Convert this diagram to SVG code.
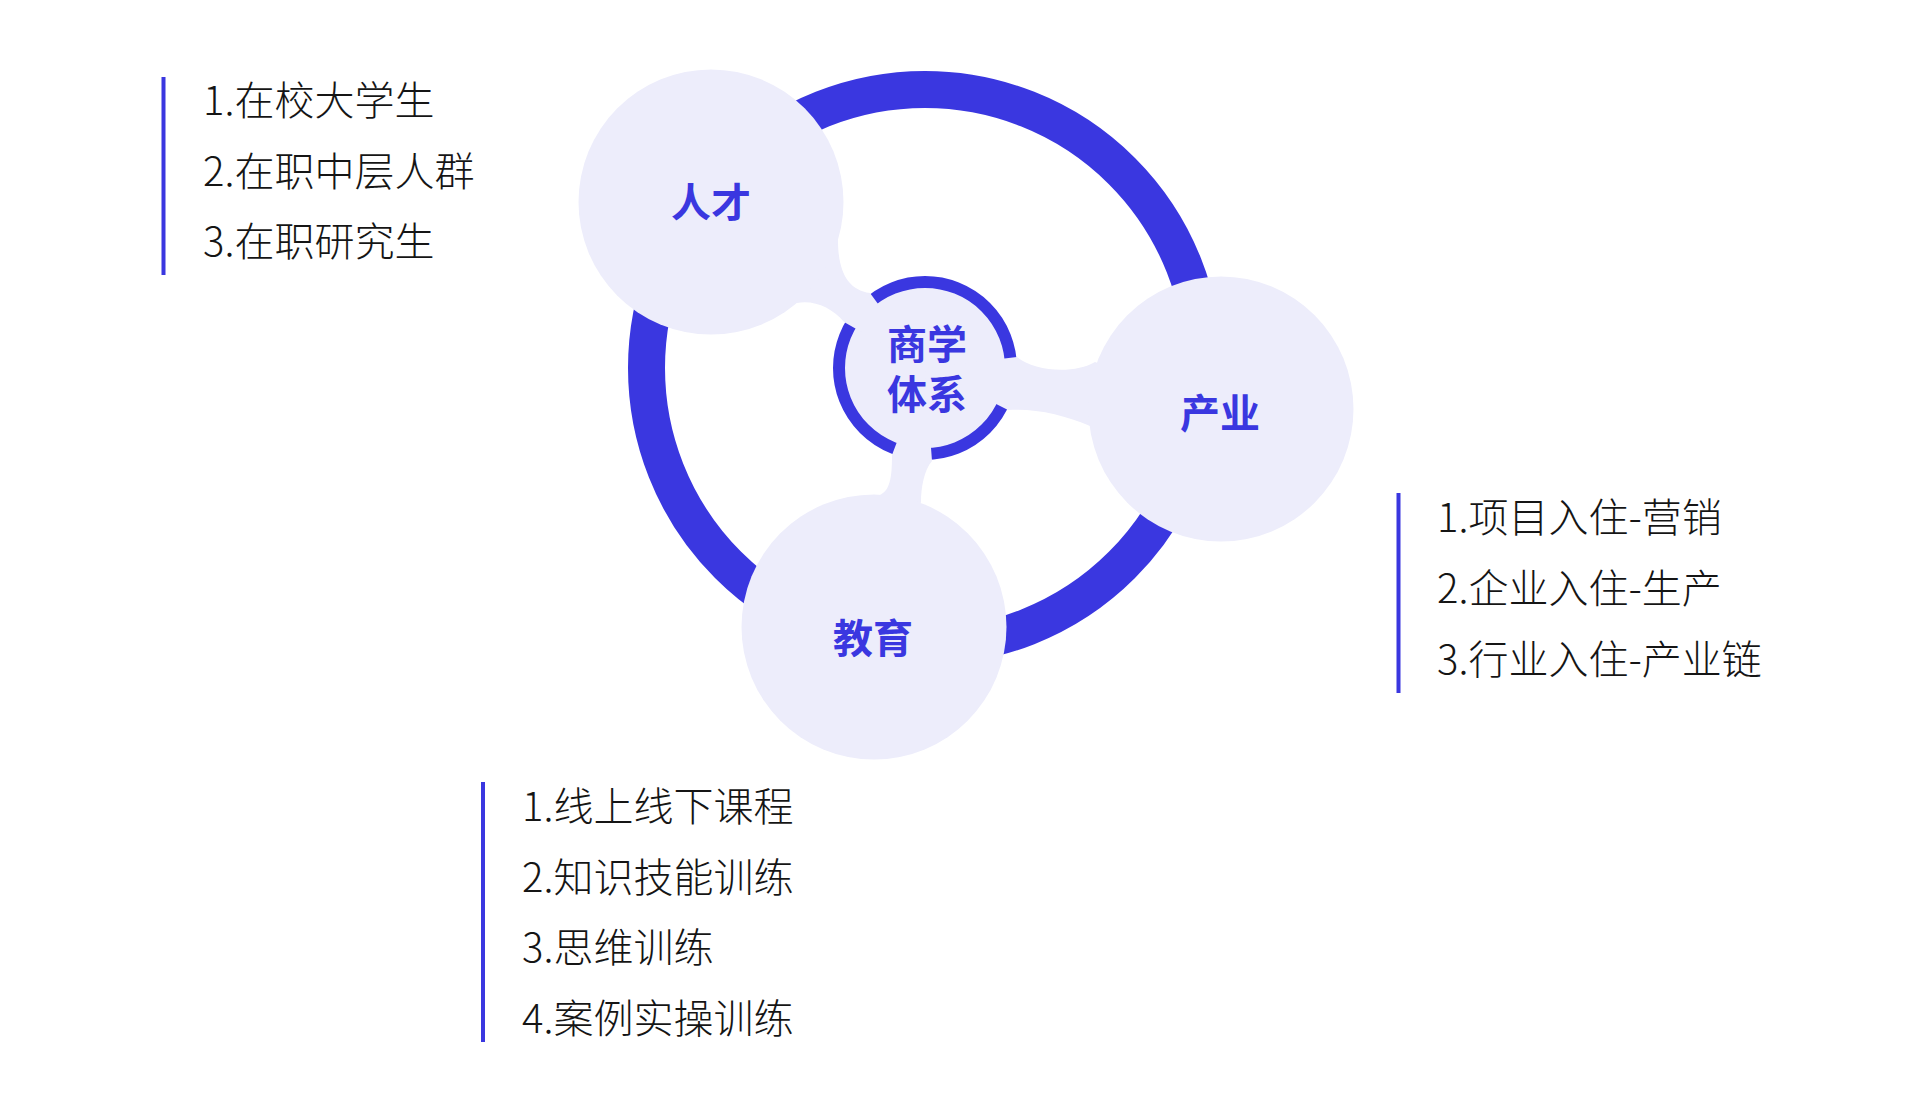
<svg xmlns="http://www.w3.org/2000/svg" width="1920" height="1095" viewBox="0 0 1920 1095">
<style>
.lav{fill:#EDEDFB}
.ring{fill:none;stroke:#3A37E0}
.lbl{font-family:"Noto Sans CJK SC","Noto Sans",sans-serif;font-weight:700;font-size:40px;fill:#3A37E0;text-anchor:middle;dominant-baseline:central}
.item{font-family:"Noto Sans CJK SC","Noto Sans",sans-serif;font-weight:300;font-size:40px;fill:#151515}
.bar{fill:#3A37E0}
</style>
<rect width="1920" height="1095" fill="#FFFFFF"/>
<g id="outer-ring">
<circle class="ring" cx="925" cy="368" r="278.5" stroke-width="37"/>
</g>
<g id="center">
<circle class="lav" cx="925" cy="368" r="82"/>
<circle class="ring" cx="925" cy="368" r="86" stroke-width="12"/>
</g>
<g id="connectors">
<path class="lav" d="M 838,240 C 838,272 848,290 870,293 L 925,368 L 844,322 C 832,308 815,300 797,303 L 711,202 Z"/>
<path class="lav" d="M 1017,357 C 1035,372 1075,374 1095,362 L 1221,409 L 1090,426 C 1065,415 1035,408 1008,410 L 925,368 Z"/>
<path class="lav" d="M 892,455 C 892,478 890,490 880,495 L 874,627 L 921,502 C 921,488 924,470 932,461 L 925,368 Z"/>
</g>
<g id="node-center">
<text class="lbl"><tspan x="927" y="342">商学</tspan><tspan x="927" y="392">体系</tspan></text>
</g>
<g id="node-rencai">
<circle class="lav" cx="711" cy="202" r="132.5"/>
<text class="lbl" x="711" y="200">人才</text>
</g>
<g id="node-chanye">
<circle class="lav" cx="1221" cy="409" r="132.5"/>
<text class="lbl" x="1220" y="411">产业</text>
</g>
<g id="node-jiaoyu">
<circle class="lav" cx="874" cy="627" r="132.5"/>
<text class="lbl" x="873" y="636">教育</text>
</g>
<g id="list-rencai">
<rect class="bar" x="161.5" y="77" width="4" height="198"/>
<text class="item" x="203" y="115">1.在校大学生</text>
<text class="item" x="203" y="185.5">2.在职中层人群</text>
<text class="item" x="203" y="256">3.在职研究生</text>
</g>
<g id="list-chanye">
<rect class="bar" x="1396.5" y="493" width="4" height="200"/>
<text class="item" x="1437" y="532">1.项目入住-营销</text>
<text class="item" x="1437" y="603">2.企业入住-生产</text>
<text class="item" x="1437" y="674">3.行业入住-产业链</text>
</g>
<g id="list-jiaoyu">
<rect class="bar" x="481" y="782" width="4" height="260"/>
<text class="item" x="522" y="821">1.线上线下课程</text>
<text class="item" x="522" y="892">2.知识技能训练</text>
<text class="item" x="522" y="962">3.思维训练</text>
<text class="item" x="522" y="1033">4.案例实操训练</text>
</g>
</svg>
